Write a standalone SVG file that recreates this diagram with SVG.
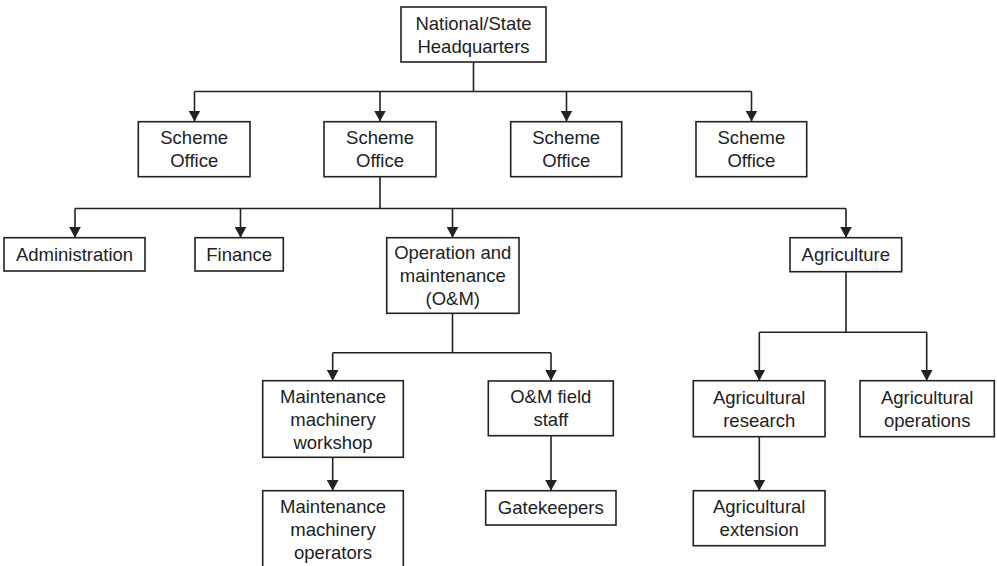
<svg xmlns="http://www.w3.org/2000/svg" width="997" height="566" viewBox="0 0 997 566">
  <style>
    .box { fill: #ffffff; stroke: #222222; stroke-width: 1.6; }
    .lbl { font-family: "Liberation Sans", Arial, Helvetica, sans-serif; font-size: 18.5px; fill: #222222; text-anchor: middle; }
    .wire { fill: none; stroke: #222222; stroke-width: 1.6; }
  </style>
  <defs>
    <marker id="head" markerUnits="userSpaceOnUse" markerWidth="12" markerHeight="12" viewBox="0 0 12 12" refX="11" refY="6" orient="auto">
      <path d="M0,0 L11,6 L0,12 Z" fill="#222222"/>
    </marker>
  </defs>
  <rect width="997" height="566" fill="#ffffff"/>

  <!-- connectors -->
  <g id="connectors">
    <path class="wire" d="M473.5,62 V91.5 M194.5,91.5 H751.5"/>
    <path class="wire" d="M194.5,91.5 V121.5" marker-end="url(#head)"/>
    <path class="wire" d="M380,91.5 V121.5" marker-end="url(#head)"/>
    <path class="wire" d="M566.5,91.5 V121.5" marker-end="url(#head)"/>
    <path class="wire" d="M751.5,91.5 V121.5" marker-end="url(#head)"/>

    <path class="wire" d="M380,176.7 V208.5 M75,208.5 H846"/>
    <path class="wire" d="M75,208.5 V237.7" marker-end="url(#head)"/>
    <path class="wire" d="M240.5,208.5 V237.7" marker-end="url(#head)"/>
    <path class="wire" d="M452.5,208.5 V237.7" marker-end="url(#head)"/>
    <path class="wire" d="M846,208.5 V237.7" marker-end="url(#head)"/>

    <path class="wire" d="M452.5,313.3 V352.7 M332.7,352.7 H551"/>
    <path class="wire" d="M332.7,352.7 V380.7" marker-end="url(#head)"/>
    <path class="wire" d="M551,352.7 V380.7" marker-end="url(#head)"/>
    <path class="wire" d="M332.7,457.3 V490.7" marker-end="url(#head)"/>
    <path class="wire" d="M551,435.7 V490.7" marker-end="url(#head)"/>

    <path class="wire" d="M846,271.7 V332.3 M759.3,332.3 H926.7"/>
    <path class="wire" d="M759.3,332.3 V380.7" marker-end="url(#head)"/>
    <path class="wire" d="M926.7,332.3 V380.7" marker-end="url(#head)"/>
    <path class="wire" d="M759.3,436.7 V490.7" marker-end="url(#head)"/>
  </g>

  <!-- nodes -->
  <g id="hq">
    <rect class="box" x="401" y="7" width="145" height="55"/>
    <text class="lbl" x="473.5" y="29.8">National/State</text>
    <text class="lbl" x="473.5" y="52.8">Headquarters</text>
  </g>
  <g id="scheme-office-1">
    <rect class="box" x="138.3" y="121.7" width="111.7" height="55"/>
    <text class="lbl" x="194.2" y="144.3">Scheme</text>
    <text class="lbl" x="194.2" y="167.3">Office</text>
  </g>
  <g id="scheme-office-2">
    <rect class="box" x="324" y="121.7" width="112" height="55"/>
    <text class="lbl" x="380" y="144.3">Scheme</text>
    <text class="lbl" x="380" y="167.3">Office</text>
  </g>
  <g id="scheme-office-3">
    <rect class="box" x="510.7" y="121.7" width="111" height="55"/>
    <text class="lbl" x="566.2" y="144.3">Scheme</text>
    <text class="lbl" x="566.2" y="167.3">Office</text>
  </g>
  <g id="scheme-office-4">
    <rect class="box" x="696" y="121.7" width="110.7" height="55"/>
    <text class="lbl" x="751.4" y="144.3">Scheme</text>
    <text class="lbl" x="751.4" y="167.3">Office</text>
  </g>

  <g id="administration">
    <rect class="box" x="4" y="237.7" width="141" height="33.3"/>
    <text class="lbl" x="74.5" y="261">Administration</text>
  </g>
  <g id="finance">
    <rect class="box" x="195" y="237.7" width="88.3" height="33.3"/>
    <text class="lbl" x="239.2" y="261">Finance</text>
  </g>
  <g id="operation-maintenance">
    <rect class="box" x="386.7" y="237.7" width="132.3" height="75.6"/>
    <text class="lbl" x="452.8" y="259.1">Operation and</text>
    <text class="lbl" x="452.8" y="282.1">maintenance</text>
    <text class="lbl" x="452.8" y="305.1">(O&amp;M)</text>
  </g>
  <g id="agriculture">
    <rect class="box" x="790" y="237.7" width="111.7" height="34"/>
    <text class="lbl" x="845.8" y="261.3">Agriculture</text>
  </g>

  <g id="maintenance-workshop">
    <rect class="box" x="262.7" y="380.7" width="140.6" height="76.6"/>
    <text class="lbl" x="333" y="402.6">Maintenance</text>
    <text class="lbl" x="333" y="425.6">machinery</text>
    <text class="lbl" x="333" y="448.6">workshop</text>
  </g>
  <g id="maintenance-operators">
    <rect class="box" x="262.7" y="490.7" width="140.6" height="80"/>
    <text class="lbl" x="333" y="512.7">Maintenance</text>
    <text class="lbl" x="333" y="535.7">machinery</text>
    <text class="lbl" x="333" y="558.7">operators</text>
  </g>
  <g id="om-field-staff">
    <rect class="box" x="488.3" y="381" width="125" height="54.7"/>
    <text class="lbl" x="550.8" y="403.3">O&amp;M field</text>
    <text class="lbl" x="550.8" y="426.3">staff</text>
  </g>
  <g id="gatekeepers">
    <rect class="box" x="485.7" y="490.7" width="130.3" height="34.3"/>
    <text class="lbl" x="550.8" y="514.4">Gatekeepers</text>
  </g>
  <g id="agricultural-research">
    <rect class="box" x="693.3" y="380.7" width="131.7" height="56"/>
    <text class="lbl" x="759.2" y="403.5">Agricultural</text>
    <text class="lbl" x="759.2" y="426.5">research</text>
  </g>
  <g id="agricultural-operations">
    <rect class="box" x="860" y="380.7" width="134.3" height="56"/>
    <text class="lbl" x="927.2" y="403.5">Agricultural</text>
    <text class="lbl" x="927.2" y="426.5">operations</text>
  </g>
  <g id="agricultural-extension">
    <rect class="box" x="693.3" y="490.7" width="131.7" height="55"/>
    <text class="lbl" x="759.2" y="513">Agricultural</text>
    <text class="lbl" x="759.2" y="536">extension</text>
  </g>
</svg>
